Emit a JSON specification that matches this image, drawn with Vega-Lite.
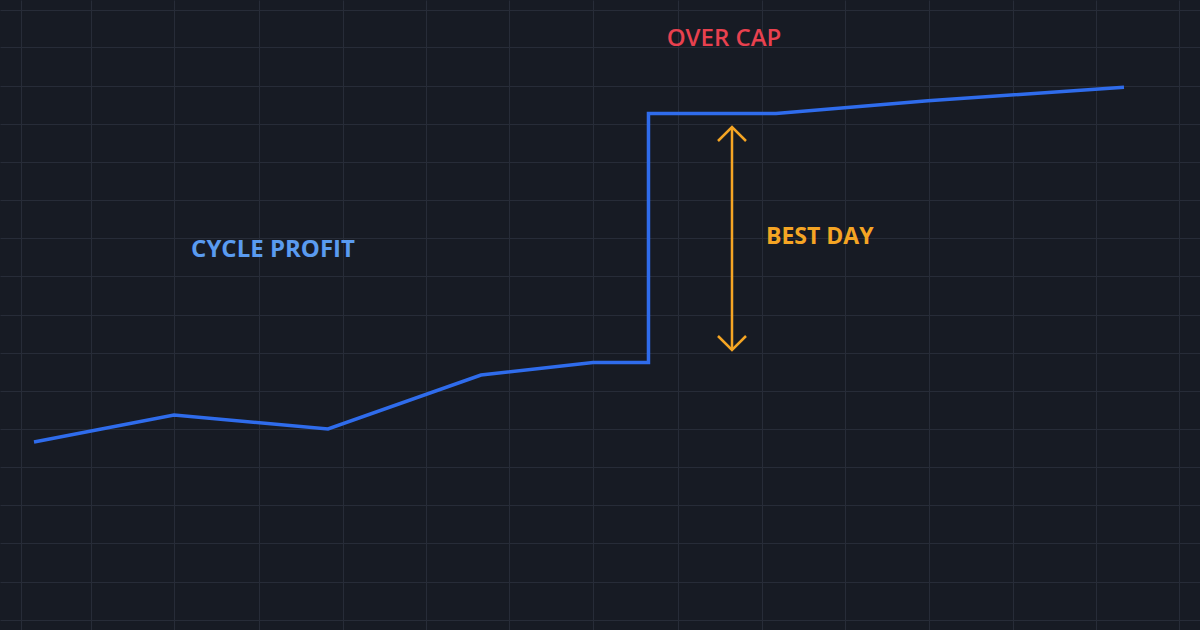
{
  "$schema": "https://vega.github.io/schema/vega-lite/v6.json",
  "width": 1200,
  "height": 630,
  "autosize": {"type": "fit", "contains": "padding"},
  "padding": 0,
  "background": "#171b24",
  "config": {
    "view": {"stroke": null},
    "axis": {"labels": false, "ticks": false, "domain": false, "title": null, "grid": true, "gridColor": "#272c38", "gridWidth": 1, "gridOpacity": 1, "tickCount": 60}
  },
  "datasets": {
    "profit": [
      {"i": 0, "day": 0.425, "profit": 4.7},
      {"i": 1, "day": 2.175, "profit": 5.375},
      {"i": 2, "day": 4.1, "profit": 5.025},
      {"i": 3, "day": 6.0125, "profit": 6.375},
      {"i": 4, "day": 7.4125, "profit": 6.6875},
      {"i": 5, "day": 8.106, "profit": 6.6875},
      {"i": 6, "day": 8.106, "profit": 12.9125},
      {"i": 7, "day": 9.7, "profit": 12.9125},
      {"i": 8, "day": 11.6, "profit": 13.2325},
      {"i": 9, "day": 14.05, "profit": 13.5675}
    ],
    "labels": [
      {"label": "CYCLE PROFIT", "day": 3.4125, "profit": 9.5125, "kind": "cycle"},
      {"label": "OVER CAP", "day": 9.05, "profit": 14.775, "kind": "cap"},
      {"label": "BEST DAY", "day": 9.575, "profit": 9.8375, "kind": "best"}
    ],
    "arrow": [{"day": 9.15, "top": 12.575, "bottom": 7.0}],
    "heads": [
      {"day": 9.15, "profit": 12.575, "dir": "up"},
      {"day": 9.15, "profit": 7.0, "dir": "down"}
    ]
  },
  "layer": [
    {
      "data": {"name": "profit"},
      "mark": {"type": "line", "color": "#2f6cec", "strokeWidth": 3.5, "strokeJoin": "miter"},
      "encoding": {
        "x": {"field": "day", "type": "quantitative", "scale": {"domain": [0, 15], "nice": false, "zero": false}, "axis": {"tickCount": 60, "values": [0.2625, 1.1375, 2.175, 3.2375, 4.2875, 5.325, 6.3625, 7.4125, 8.475, 9.525, 10.5625, 11.6125, 12.6625, 13.7, 14.7375]}},
        "y": {"field": "profit", "type": "quantitative", "scale": {"domain": [0, 15.75], "nice": false, "zero": false}, "axis": {"tickCount": 60, "values": [0.25, 1.2, 2.175, 3.125, 4.075, 5.025, 5.975, 6.925, 7.875, 8.85, 9.8, 10.75, 11.7, 12.65, 13.6, 14.575, 15.5]}},
        "order": {"field": "i", "type": "quantitative"}
      }
    },
    {
      "data": {"name": "arrow"},
      "mark": {"type": "rule", "color": "#f5a524", "strokeWidth": 2.5},
      "encoding": {
        "x": {"field": "day", "type": "quantitative"},
        "y": {"field": "top", "type": "quantitative"},
        "y2": {"field": "bottom"}
      }
    },
    {
      "data": {"name": "heads"},
      "mark": {"type": "point", "filled": false, "size": 784, "strokeWidth": 2.5, "color": "#f5a524", "opacity": 1},
      "encoding": {
        "x": {"field": "day", "type": "quantitative"},
        "y": {"field": "profit", "type": "quantitative"},
        "shape": {"field": "dir", "type": "nominal", "scale": {"domain": ["up", "down"], "range": ["M-1,1L0,0L1,1", "M-1,-1L0,0L1,-1"]}, "legend": null}
      }
    },
    {
      "data": {"name": "labels"},
      "transform": [{"filter": "datum.kind === 'cycle'"}],
      "mark": {"type": "text", "font": "Open Sans", "fontSize": 24, "fontWeight": "bold", "color": "#5a9bf0", "align": "center", "baseline": "middle"},
      "encoding": {
        "x": {"field": "day", "type": "quantitative"},
        "y": {"field": "profit", "type": "quantitative"},
        "text": {"field": "label"}
      }
    },
    {
      "data": {"name": "labels"},
      "transform": [{"filter": "datum.kind === 'cap'"}],
      "mark": {"type": "text", "font": "Open Sans", "fontSize": 24, "fontWeight": 600, "color": "#e8414f", "align": "center", "baseline": "middle"},
      "encoding": {
        "x": {"field": "day", "type": "quantitative"},
        "y": {"field": "profit", "type": "quantitative"},
        "text": {"field": "label"}
      }
    },
    {
      "data": {"name": "labels"},
      "transform": [{"filter": "datum.kind === 'best'"}],
      "mark": {"type": "text", "font": "Open Sans", "fontSize": 23, "fontWeight": "bold", "color": "#f5a524", "align": "left", "baseline": "middle"},
      "encoding": {
        "x": {"field": "day", "type": "quantitative"},
        "y": {"field": "profit", "type": "quantitative"},
        "text": {"field": "label"}
      }
    }
  ]
}
